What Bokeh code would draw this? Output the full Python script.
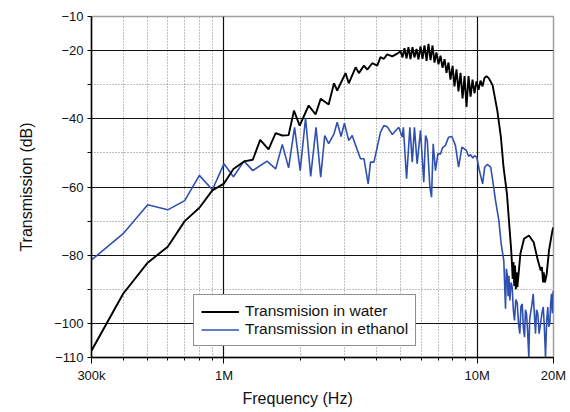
from bokeh.plotting import figure
from bokeh.models import (Range1d, FixedTicker, Grid, Legend, LegendItem, Title,
                          ColumnDataSource)
from bokeh.embed import file_html
from bokeh.resources import INLINE

# ---- data (frequency in MHz, transmission in dB) ----
water_mhz = [0.30, 0.40, 0.50, 0.60, 0.70, 0.80, 0.90, 1.00, 1.09, 1.20, 1.30, 1.39, 1.50, 1.60,
             1.70, 1.80, 1.89, 1.99, 2.16, 2.30, 2.41, 2.59, 2.72, 2.80, 3.02, 3.11, 3.31, 3.41,
             3.57, 3.68, 3.85, 4.03, 4.15, 4.28, 4.41, 4.62, 4.83, 4.98,
             5.07, 5.16, 5.26, 5.35, 5.45, 5.55, 5.65, 5.76, 5.86, 5.97, 6.08, 6.19, 6.31, 6.42,
             6.54, 6.66, 6.78, 6.90, 7.03, 7.16, 7.29, 7.43, 7.56, 7.70, 7.84, 7.99, 8.13, 8.28,
             8.43, 8.59, 8.75, 8.91, 9.07, 9.24, 9.41, 9.58, 9.75, 9.93, 10.12, 10.30, 10.49,
             10.68, 10.88, 11.08, 11.28, 11.5, 12.0, 12.4, 12.7, 13.1, 13.4, 13.6, 13.7, 13.8,
             13.9, 14.0, 14.1, 14.2, 14.3, 14.4, 14.6, 14.8, 15.3, 16.0, 16.7, 17.3, 17.8, 18.0,
             18.2, 18.3, 18.5, 18.8, 19.2, 19.8, 20.0]
water_db = [-108, -91.3, -82.2, -77.5, -70, -66.1, -61, -59, -54.7, -52.5, -52, -46.2, -49, -44.2,
            -44.9, -44.8, -37.6, -42, -36.1, -38.7, -34.1, -35.8, -29.6, -31.7, -26.6, -29.6, -24.9,
            -26.6, -24.4, -25.6, -23.7, -24.4, -21.9, -22.4, -21.1, -21.7, -20.9, -20.2,
            -22.0, -19.3, -22.3, -19.0, -22.5, -19.0, -22.0, -19.5, -22.6, -18.8, -22.4, -18.5,
            -23.0, -18.0, -22.8, -18.5, -23.5, -20.5, -24.0, -21.5, -25.0, -22.5, -26.5, -23.5,
            -28.5, -24.5, -30.5, -25.5, -32.0, -26.5, -34.0, -27.5, -36.5, -27.5, -33.5, -28.5,
            -32.5, -29.0, -31.5, -28.8, -30.5, -28.0, -27.5, -28.0, -29.0, -30.2, -37.6, -45.4,
            -54.2, -62, -71.8, -78, -82, -87, -82, -89, -83, -90, -85, -89.4, -84.5, -79.6, -75.2,
            -74.2, -76.2, -81.1, -84.5, -83.5, -88, -85, -88, -85.5, -78.6, -72.8, -71.8]

ethanol_mhz = [0.30, 0.40, 0.50, 0.60, 0.70, 0.80, 0.90, 1.00, 1.09, 1.20, 1.30, 1.48, 1.60, 1.70,
               1.80, 1.90, 2.00, 2.10, 2.20, 2.31, 2.41, 2.50, 2.59, 2.72, 2.80, 2.90, 2.99, 3.11,
               3.21, 3.31, 3.46, 3.57, 3.71, 3.79, 3.91, 4.15, 4.28, 4.41, 4.62, 4.75, 4.90, 5.06,
               5.11, 5.26, 5.42, 5.54, 5.65, 5.79, 5.97, 6.15, 6.25, 6.35, 6.50, 6.60, 6.70, 6.84,
               6.99, 7.16, 7.29, 7.49, 7.70, 7.94, 8.20, 8.44, 8.70, 9.07, 9.24, 9.41, 9.60, 9.75,
               9.96, 10.2, 10.5, 10.7, 10.95, 11.3, 11.56, 11.81, 12.17, 12.43, 12.73, 12.93, 13.03,
               13.13, 13.24, 13.34, 13.45, 13.6, 13.74, 13.88, 14.03, 14.2, 14.38, 14.55, 14.72,
               14.88, 15.05, 15.2, 15.37, 15.5, 15.65, 15.8, 15.98, 16.1, 16.22, 16.4, 16.63, 16.8,
               16.98, 17.15, 17.34, 17.55, 17.78, 18.0, 18.22, 18.4, 18.6, 18.8, 18.99, 19.15,
               19.34, 19.5, 19.64, 19.8, 19.95]
ethanol_db = [-81.4, -73.7, -65.2, -66.7, -64, -56.6, -60.8, -53.2, -57, -52.4, -55.2, -52.4, -54.7,
              -47.5, -54.4, -42.5, -55.2, -39.7, -56.9, -42.5, -57.1, -44.9, -47.3, -44.4, -41,
              -45.2, -41.3, -46.4, -44.9, -47.8, -51.7, -51.7, -59.1, -52.7, -52.7, -43.9, -42.0,
              -42.3, -44.6, -43.6, -42.5, -45.4, -42.5, -57.6, -42.5, -52.7, -42.5, -53.2, -43.4,
              -58.6, -44.9, -46.4, -60, -63, -47.3, -55.2, -50.3, -50.3, -48.5, -47.8, -45.4,
              -45.2, -47.8, -54.2, -48.3, -49.3, -51, -50.5, -51.5, -50.8, -51.3, -55.2, -59.1,
              -54.2, -53.4, -54.2, -59.1, -64, -69.8, -76.7, -81.6, -95.7, -84, -85.5, -92, -86,
              -93.3, -88, -89.4, -96, -99.1, -93, -94, -100, -103, -95, -94.3, -101, -104, -96,
              -97.2, -102, -110, -99, -97.2, -95, -91.3, -97, -103, -96, -97.2, -103, -100.1, -97,
              -95.2, -101, -110, -99, -95.2, -101, -100, -94, -91.3, -97, -90.4]

x_labelled_ticks = [3e5, 1e6, 1e7, 2e7]
x_tick_labels = ["300k", "1M", "10M", "20M"]
x_minor_ticks = [4e5, 5e5, 6e5, 7e5, 8e5, 9e5, 2e6, 3e6, 4e6, 5e6, 6e6, 7e6, 8e6, 9e6]
x_solid_grid = [1e6, 1e7]
y_labelled_ticks = [-110, -100, -80, -60, -40, -20, -10]
y_minor_ticks = [-90, -70, -50, -30]
y_solid_grid = [-100, -80, -60, -40, -20]

FONT = "Liberation Sans"

p = figure(width=570, height=412, x_axis_type="log", output_backend="svg",
           toolbar_location=None, x_range=Range1d(3e5, 2e7), y_range=Range1d(-110, -10))
p.min_border_left = 91
p.min_border_right = 17
p.min_border_top = 16
p.min_border_bottom = 55
p.background_fill_color = "white"
p.border_fill_color = "white"
p.outline_line_color = "#a0a0a0"
p.outline_line_width = 1.5
p.xgrid.visible = False
p.ygrid.visible = False

# grids
p.add_layout(Grid(dimension=0, ticker=FixedTicker(ticks=x_minor_ticks),
                  grid_line_color="#808080", grid_line_dash="1 2", grid_line_width=1))
p.add_layout(Grid(dimension=1, ticker=FixedTicker(ticks=y_minor_ticks),
                  grid_line_color="#808080", grid_line_dash="1 2", grid_line_width=1))
p.add_layout(Grid(dimension=0, ticker=FixedTicker(ticks=x_solid_grid),
                  grid_line_color="#111111", grid_line_width=1.2))
p.add_layout(Grid(dimension=1, ticker=FixedTicker(ticks=y_solid_grid),
                  grid_line_color="#111111", grid_line_width=1.2))

# axes
xa = p.xaxis[0]
xa.ticker = FixedTicker(ticks=x_labelled_ticks, minor_ticks=x_minor_ticks)
xa.major_label_overrides = {float(t): s for t, s in zip(x_labelled_ticks, x_tick_labels)}
xa.major_tick_out = 6
xa.major_tick_in = 0
xa.minor_tick_out = 3
xa.minor_tick_in = 0
xa.axis_line_width = 1.5
xa.axis_line_color = "black"
xa.major_tick_line_color = "black"
xa.minor_tick_line_color = "black"
xa.major_label_text_font = FONT
xa.major_label_text_font_size = "13px"
xa.major_label_text_color = "#111111"
xa.major_label_standoff = 4

ya = p.yaxis[0]
ya.ticker = FixedTicker(ticks=y_labelled_ticks, minor_ticks=y_minor_ticks)
ya.major_tick_out = 4
ya.major_tick_in = 0
ya.minor_tick_out = 4
ya.minor_tick_in = 0
ya.axis_line_width = 1.5
ya.axis_line_color = "black"
ya.major_tick_line_color = "black"
ya.minor_tick_line_color = "black"
ya.major_label_text_font = FONT
ya.major_label_text_font_size = "13px"
ya.major_label_text_color = "#111111"
ya.major_label_standoff = 4
ya.axis_label = "Transmission (dB)"
ya.axis_label_text_font = FONT
ya.axis_label_text_font_size = "16px"
ya.axis_label_text_font_style = "normal"
ya.axis_label_text_color = "#111111"
ya.axis_label_standoff = 16

# lines
src_w = ColumnDataSource(dict(f=[m * 1e6 for m in water_mhz], db=water_db))
src_e = ColumnDataSource(dict(f=[m * 1e6 for m in ethanol_mhz], db=ethanol_db))
r_e = p.line("f", "db", source=src_e, line_color="#3050b0", line_width=1.6)
r_w = p.line("f", "db", source=src_w, line_color="black", line_width=1.9)

legend = Legend(items=[LegendItem(label="Transmision in water", renderers=[r_w]),
                       LegendItem(label="Transmission in ethanol", renderers=[r_e])],
                location=(102, 11), orientation="vertical")
legend.border_line_color = "#222222"
legend.border_line_width = 1.2
legend.background_fill_color = "white"
legend.background_fill_alpha = 1
legend.label_text_font = FONT
legend.label_text_font_size = "15.5px"
legend.label_text_color = "#111111"
legend.glyph_width = 38
legend.glyph_height = 17
legend.label_height = 17
legend.label_standoff = 6
legend.padding = 7
legend.spacing = 0
legend.margin = 0
p.add_layout(legend)

xtitle = Title(text="Frequency (Hz)", align="left", offset=151, text_font=FONT,
               text_font_size="16px", text_font_style="normal", text_color="#111111",
               standoff=4)
p.add_layout(xtitle, "below")

open("out.html", "w").write(file_html(p, INLINE))
